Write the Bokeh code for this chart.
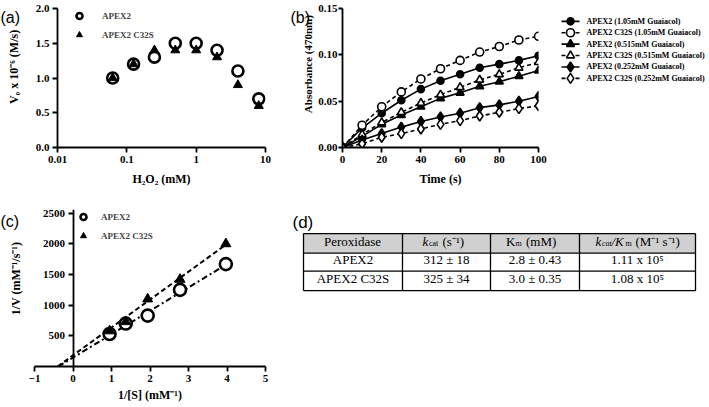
import math
from bokeh.plotting import figure
from bokeh.layouts import row, column
from bokeh.models import (Range1d, Legend, LegendItem, Label, FixedTicker,
                          PrintfTickFormatter, CustomJSTickFormatter)
from bokeh.core.properties import value
from bokeh.embed import file_html
from bokeh.resources import INLINE

SERIF = "Liberation Serif"
SANS = "Liberation Sans"

# ---------------- data: panel (a) ----------------
h2o2_mM = [0.0625, 0.125, 0.25, 0.5, 1.0, 2.0, 4.0, 8.0]
v0_apex2 = [1.0, 1.2, 1.3, 1.5, 1.5, 1.4, 1.1, 0.7]
v0_c32s = [1.0, 1.2, 1.4, 1.4, 1.4, 1.3, 0.9, 0.6]
a_xticks = [0.01, 0.1, 1, 10]
a_yticks = [0.0, 0.5, 1.0, 1.5, 2.0]

# ---------------- data: panel (b) ----------------
time_s = [0, 10, 20, 30, 40, 50, 60, 70, 80, 90, 100]
abs_apex2_105 = [0, 0.021, 0.037, 0.051, 0.063, 0.072, 0.079, 0.086, 0.090, 0.094, 0.099]
abs_c32s_105 = [0, 0.024, 0.044, 0.060, 0.074, 0.085, 0.094, 0.103, 0.109, 0.116, 0.120]
abs_apex2_0515 = [0, 0.012, 0.025, 0.035, 0.044, 0.053, 0.059, 0.066, 0.071, 0.077, 0.083]
abs_c32s_0515 = [0, 0.014, 0.027, 0.038, 0.048, 0.057, 0.065, 0.073, 0.079, 0.086, 0.092]
abs_apex2_0252 = [0, 0.008, 0.015, 0.022, 0.028, 0.033, 0.037, 0.043, 0.046, 0.050, 0.055]
abs_c32s_0252 = [0, 0.004, 0.011, 0.015, 0.020, 0.025, 0.029, 0.034, 0.038, 0.042, 0.045]
b_labels = ["APEX2 (1.05mM Guaiacol)", "APEX2 C32S (1.05mM Guaiacol)",
            "APEX2 (0.515mM Guaiacol)", "APEX2 C32S (0.515mM Guaiacol)",
            "APEX2 (0.252mM Guaiacol)", "APEX2 C32S (0.252mM Guaiacol)"]
b_xticks = [0, 20, 40, 60, 80, 100]
b_yticks = [0.0, 0.05, 0.10, 0.15]

# ---------------- data: panel (c) ----------------
inv_s = [0.95, 1.37, 1.94, 2.78, 3.97]
inv_v_apex2 = [530, 700, 830, 1250, 1670]
inv_v_c32s = [580, 730, 1100, 1420, 2000]
fit_x_apex2 = [-0.38, 4.0]
fit_y_apex2 = [0, 1670]
fit_x_c32s = [-0.40, 4.0]
fit_y_c32s = [0, 2000]
c_xticks = [-1, 0, 1, 2, 3, 4, 5]
c_yticks = [500, 1000, 1500, 2000, 2500]

# ---------------- data: panel (d) ----------------
table_peroxidase = ["APEX2", "APEX2 C32S"]
table_kcat = ["312 ± 18", "325 ± 34"]
table_km = ["2.8 ± 0.43", "3.0 ± 0.35"]
table_eff = ["1.11 x 10⁵", "1.08 x 10⁵"]

TITLE_SIZE = "12px"


def style(p):
    p.outline_line_color = None
    p.grid.grid_line_color = None
    for ax in p.axis:
        ax.axis_line_width = 1.8
        ax.axis_line_color = "black"
        ax.major_tick_line_width = 1.8
        ax.major_tick_line_color = "black"
        ax.major_tick_out = 5
        ax.major_tick_in = 0
        ax.minor_tick_line_color = None
        ax.major_label_text_font = SERIF
        ax.major_label_text_font_style = "bold"
        ax.major_label_text_font_size = "11px"
        ax.major_label_text_color = "black"
        ax.major_label_standoff = 3
        ax.axis_label_text_font = SERIF
        ax.axis_label_text_font_style = "bold"
        ax.axis_label_text_font_size = TITLE_SIZE
        ax.axis_label_text_color = "black"
        ax.axis_label_standoff = 6


def make_legend(items, loc, size, gw, gh, sp, stand):
    return Legend(items=items, location=loc, margin=0, padding=0, spacing=sp,
                  glyph_width=gw, glyph_height=gh, label_height=gh, label_standoff=stand,
                  border_line_color=None, background_fill_alpha=0,
                  label_text_font=SERIF, label_text_font_style="bold",
                  label_text_font_size=size)


def strip(width, height, tag, tag_x, tag_top, ytitle, title_x, title_center_from_top,
          title_size=TITLE_SIZE):
    """Narrow canvas holding the panel tag and the vertical axis title."""
    s = figure(width=width, height=height, x_range=Range1d(0, width), y_range=Range1d(0, height),
               x_axis_location=None, y_axis_location=None, min_border=0,
               output_backend="svg", toolbar_location=None)
    s.outline_line_color = None
    s.grid.visible = False
    s.text(x=[tag_x], y=[height - tag_top], text=[tag], text_align="left", text_baseline="top",
           text_font=value(SANS), text_font_size="16px", text_color="black")
    s.text(x=[title_x], y=[height - title_center_from_top], text=[ytitle], angle=math.pi / 2,
           text_align="center", text_baseline="middle", text_font=value(SERIF),
           text_font_style="bold", text_font_size=title_size, text_color="black")
    return s


# ================= panel (a) =================
sa = strip(22, 195, "(a)", 0, 1, "V₀ x 10⁻⁶ (M/s)", 13, 82)
A_W, A_H, A_L, A_R, A_T, A_B = 268, 195, 35, 25, 8, 48
pa = figure(width=A_W, height=A_H, x_axis_type="log", x_range=Range1d(0.01, 10),
            y_range=Range1d(0, 2.0), output_backend="svg", toolbar_location=None,
            min_border_left=A_L, min_border_right=A_R, min_border_top=A_T, min_border_bottom=A_B)
style(pa)
pa.xaxis.ticker = FixedTicker(ticks=a_xticks)
pa.xaxis.formatter = CustomJSTickFormatter(code="return tick.toString()")
pa.yaxis.ticker = FixedTicker(ticks=a_yticks)
pa.yaxis.formatter = PrintfTickFormatter(format="%.1f")
pa.xaxis.axis_label = "H₂O₂ (mM)"
ra1 = pa.scatter(h2o2_mM, v0_apex2, marker="circle", size=11, fill_alpha=0,
                 line_color="black", line_width=2.6)
ra2 = pa.scatter(h2o2_mM, v0_c32s, marker="triangle", size=9, fill_color="black",
                 line_color="black")
pa.add_layout(make_legend([LegendItem(label="APEX2", renderers=[ra1]),
                           LegendItem(label="APEX2 C32S", renderers=[ra2])],
                          (13, A_H - A_T - A_B - 34), "9px", 18, 15, 4, 14))

# ================= panel (b) =================
sb = strip(25, 195, "(b)", 0, 1, "Absorbance (470nm)", 17, 78, "11px")
B_W, B_H, B_L, B_R, B_T, B_B = 235, 195, 27, 12, 8, 48
pb = figure(width=B_W, height=B_H, x_range=Range1d(0, 100), y_range=Range1d(0, 0.15),
            output_backend="svg", toolbar_location=None,
            min_border_left=B_L, min_border_right=B_R, min_border_top=B_T, min_border_bottom=B_B)
style(pb)
pb.xaxis.ticker = FixedTicker(ticks=b_xticks)
pb.yaxis.ticker = FixedTicker(ticks=b_yticks)
pb.yaxis.formatter = PrintfTickFormatter(format="%.2f")
pb.yaxis.major_label_standoff = 1
pb.yaxis.major_tick_out = 4
pb.xaxis.axis_label = "Time (s)"

b_series = [
    (abs_apex2_105, "solid", "circle", 7, "black"),
    (abs_c32s_105, "4 3", "circle", 8, "white"),
    (abs_apex2_0515, "solid", "triangle", 8, "black"),
    (abs_c32s_0515, "4 3", "triangle", 8, "white"),
    (abs_apex2_0252, "solid", "diamond", 10, "black"),
    (abs_c32s_0252, "4 3", "diamond", 10, "white"),
]
for ys, dash, mk, sz, fill in b_series:
    pb.line(time_s, ys, line_color="black", line_width=1.6, line_dash=dash)
    pb.scatter(time_s, ys, marker=mk, size=sz, fill_color=fill,
               line_color="black", line_width=1.6)

# legend of (b): its own small canvas in pixel-like coordinates (y downwards)
L_W, L_H = 156, 195
pl = figure(width=L_W, height=L_H, x_range=Range1d(0, L_W), y_range=Range1d(L_H, 0),
            x_axis_location=None, y_axis_location=None, min_border=0,
            output_backend="svg", toolbar_location=None)
pl.outline_line_color = None
pl.grid.visible = False
leg_row_y = [18 + 16 * i for i in range(len(b_labels))]
for (ys, dash, mk, sz, fill), yy in zip(b_series, leg_row_y):
    pl.line([11, 29], [yy, yy], line_color="black", line_width=1.6, line_dash=dash)
    pl.scatter([20], [yy], marker=mk, size=sz, fill_color=fill,
               line_color="black", line_width=1.6)
pl.text(x=[36] * len(b_labels), y=leg_row_y, text=b_labels, text_align="left",
        text_baseline="middle", text_font=value(SERIF), text_font_style="bold",
        text_font_size="8px", text_color="black")

# ================= panel (c) =================
sc = strip(24, 209, "(c)", 0, 5, "1/V (mM⁻¹/s⁻¹)", 15, 92)
C_W, C_H, C_L, C_R, C_T, C_B = 266, 209, 10, 25, 14, 38
pc = figure(width=C_W, height=C_H, x_range=Range1d(-1, 5), y_range=Range1d(0, 2560),
            output_backend="svg", toolbar_location=None,
            min_border_left=C_L, min_border_right=C_R, min_border_top=C_T, min_border_bottom=C_B)
style(pc)
pc.yaxis.fixed_location = 0
pc.xaxis.ticker = FixedTicker(ticks=c_xticks)
pc.yaxis.ticker = FixedTicker(ticks=c_yticks)
pc.xaxis.axis_label = "1/[S] (mM⁻¹)"
pc.xaxis.axis_label_standoff = 3
pc.line(fit_x_c32s, fit_y_c32s, line_color="black", line_width=2, line_dash="5 3")
pc.line(fit_x_apex2, fit_y_apex2, line_color="black", line_width=2, line_dash="6 3 2 3")
rc1 = pc.scatter(inv_s, inv_v_apex2, marker="circle", size=12, fill_color="white",
                 line_color="black", line_width=2.6)
rc2 = pc.scatter(inv_s, inv_v_c32s, marker="triangle", size=10, fill_color="black",
                 line_color="black")
pc.add_layout(make_legend([LegendItem(label="APEX2", renderers=[rc1]),
                           LegendItem(label="APEX2 C32S", renderers=[rc2])],
                          (40, C_H - C_T - C_B - 34), "9px", 18, 15, 4, 9))

# ================= panel (d) : table =================
D_W, D_H = 416, 209
pdd = figure(width=D_W, height=D_H, x_range=Range1d(0, D_W), y_range=Range1d(D_H, 0),
             x_axis_location=None, y_axis_location=None, min_border=0,
             output_backend="svg", toolbar_location=None)
pdd.outline_line_color = None
pdd.grid.visible = False

col_edges = [13, 112, 200, 289, 405]
row_edges = [32, 58, 82, 108]
pdd.quad(left=[col_edges[0]], right=[col_edges[-1]], top=[row_edges[0]], bottom=[row_edges[1]],
         fill_color="#d0d0d0", line_color=None)
pdd.segment(x0=[col_edges[0]] * len(row_edges), x1=[col_edges[-1]] * len(row_edges),
            y0=row_edges, y1=row_edges, line_color="black", line_width=1.3)
pdd.segment(x0=col_edges, x1=col_edges, y0=[row_edges[0]] * len(col_edges),
            y1=[row_edges[-1]] * len(col_edges), line_color="black", line_width=1.3)

centers = [(col_edges[i] + col_edges[i + 1]) / 2 for i in range(4)]
body_x, body_y, body_t = [], [], []
for r, vals in enumerate(zip(table_peroxidase, table_kcat, table_km, table_eff)):
    yc = (row_edges[r + 1] + row_edges[r + 2]) / 2 - 3
    for c, t in enumerate(vals):
        body_x.append(centers[c])
        body_y.append(yc)
        body_t.append(t)
pdd.text(x=body_x, y=body_y, text=body_t, text_align="center", text_baseline="middle",
         text_font=value(SERIF), text_font_size="13px", text_color="black")

hy = (row_edges[0] + row_edges[1]) / 2 - 3
header_pieces = [
    (centers[0] - 29, [("Peroxidase", "normal", 13, 0, 0)]),
    (centers[1] - 24, [("k", "italic", 13, 0, 0), ("cat", "normal", 8, 6.5, 3),
                        ("(s⁻¹)", "normal", 13, 20, 0)]),
    (centers[2] - 29, [("K", "normal", 13, 0, 0), ("m", "normal", 8, 9.5, 3),
                        ("(mM)", "normal", 13, 20, 0)]),
    (centers[3] - 42, [("k", "italic", 13, 0, 0), ("cat", "italic", 8, 6.5, 3),
                        ("/K", "italic", 13, 16, 0), ("m", "normal", 8, 30, 3),
                        ("(M⁻¹ s⁻¹)", "normal", 13, 40, 0)]),
]
for start, pieces in header_pieces:
    for txt, fs, sz, dx, dy in pieces:
        pdd.text(x=[start + dx], y=[hy + dy], text=[txt], text_align="left",
                 text_baseline="middle", text_font=value(SERIF), text_font_style=fs,
                 text_font_size=f"{sz}px", text_color="black")

pdd.add_layout(Label(x=2, y=4, text="(d)", text_baseline="top", text_align="left",
                     text_font=SANS, text_font_size="17px", text_color="black"))

layout = column(row(sa, pa, sb, pb, pl), row(sc, pc, pdd))
open("out.html", "w").write(file_html(layout, INLINE))
